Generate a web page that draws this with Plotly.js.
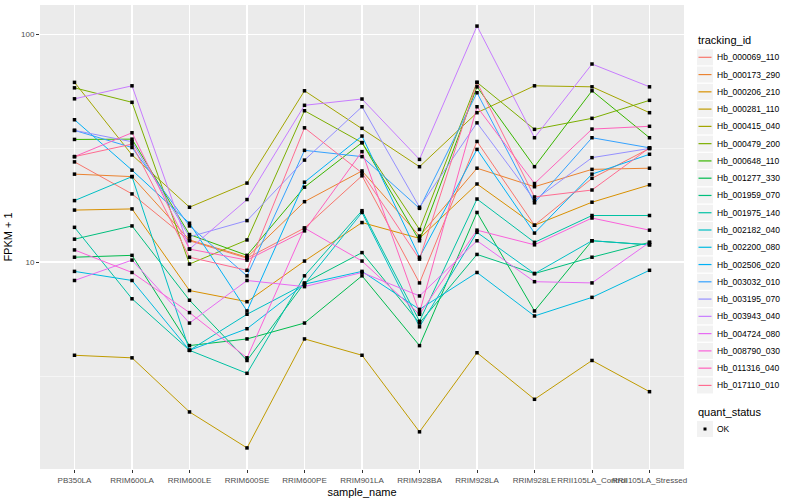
<!DOCTYPE html>
<html><head><meta charset="utf-8">
<script src="https://cdn.plot.ly/plotly-3.0.1.min.js"></script>
<style>html,body{margin:0;padding:0;background:#fff}#chart{width:800px;height:500px}</style>
</head><body><div id="chart"></div>
<script>
// ---- data ----
const sampleNames = ["PB350LA","RRIM600LA","RRIM600LE","RRIM600SE","RRIM600PE","RRIM901LA","RRIM928BA","RRIM928LA","RRIM928LE","RRII105LA_Control","RRII105LA_Stressed"];
const trackingIds = ["Hb_000069_110","Hb_000173_290","Hb_000206_210","Hb_000281_110","Hb_000415_040","Hb_000479_200","Hb_000648_110","Hb_001277_330","Hb_001959_070","Hb_001975_140","Hb_002182_040","Hb_002200_080","Hb_002506_020","Hb_003032_010","Hb_003195_070","Hb_003943_040","Hb_004724_080","Hb_008790_030","Hb_011316_040","Hb_017110_010"];
const seriesColors = ["#F8766D","#EA8331","#D89000","#C09B00","#A3A500","#7CAE00","#39B600","#00BB4E","#00BF7D","#00C1A3","#00BFC4","#00BAE0","#00B0F6","#35A2FF","#9590FF","#C77CFF","#E76BF3","#FA62DB","#FF62BC","#FF6C91"];

const hb_000069_110 = [27.5,19.9,12.4,10.4,14.1,23.9,8.1,33.8,14.5,23.3,31.5];
const hb_000173_290 = [24.3,23.7,12.5,10.5,18.4,25.1,13.0,25.8,21.4,25.5,25.8];
const hb_000206_210 = [16.9,17.1,7.5,6.7,10.1,14.9,12.7,22.0,14.5,18.3,21.8];
const hb_000281_110 = [3.9,3.8,2.2,1.53,4.6,3.9,1.8,4.0,2.5,3.7,2.7];
const hb_000415_040 = [61.4,29.5,17.4,22.2,56.4,38.6,26.2,45.2,59.3,58.7,45.2];
const hb_000479_200 = [58.1,50.2,9.8,12.5,46.1,33.4,13.9,61.4,38.2,42.7,51.2];
const hb_000648_110 = [34.5,34.6,13.2,10.7,21.3,33.4,12.4,58.7,26.2,56.4,35.1];
const hb_001277_330 = [10.5,10.7,4.3,4.6,5.4,8.7,4.3,16.5,6.1,12.4,11.9];
const hb_001959_070 = [12.6,14.4,6.8,3.7,8.1,11.0,5.4,10.8,8.9,10.5,12.2];
const hb_001975_140 = [14.2,6.9,4.1,3.25,8.7,16.8,5.5,18.9,12.2,16.0,16.0];
const hb_002182_040 = [18.6,23.7,4.1,5.9,8.0,16.5,5.2,13.5,8.9,12.4,11.9];
const hb_002200_080 = [9.1,8.3,4.1,5.1,8.0,9.1,6.2,9.0,5.8,7.0,9.2];
const hb_002506_020 = [42.1,25.3,14.8,6.1,22.4,35.7,10.5,31.2,13.4,24.3,29.7];
const hb_003032_010 = [37.8,31.8,14.4,8.7,30.9,29.0,17.2,55.3,18.2,35.1,31.7];
const hb_003195_070 = [37.8,33.7,12.9,15.2,28.0,48.0,17.4,40.8,18.7,28.7,31.5];
const hb_003943_040 = [52.0,59.3,11.4,18.8,48.7,51.9,28.2,108.4,35.1,73.9,58.7];
const hb_004724_080 = [8.3,10.2,5.4,8.3,7.8,9.0,7.1,12.4,8.2,8.1,12.2];
const hb_008790_030 = [11.3,9.0,6.0,3.8,14.1,10.1,5.9,13.8,11.9,15.6,13.8];
const hb_011316_040 = [29.0,36.9,11.4,10.2,13.7,30.5,6.0,48.0,22.1,38.3,39.4];
const hb_017110_010 = [29.0,32.9,10.5,9.2,38.8,24.6,10.3,61.4,19.3,20.7,31.7];

const seriesValues = [hb_000069_110,hb_000173_290,hb_000206_210,hb_000281_110,hb_000415_040,hb_000479_200,hb_000648_110,hb_001277_330,hb_001959_070,hb_001975_140,hb_002182_040,hb_002200_080,hb_002506_020,hb_003032_010,hb_003195_070,hb_003943_040,hb_004724_080,hb_008790_030,hb_011316_040,hb_017110_010];
const statusLabel = "OK";

// ---- geometry (pixels) ----
const W = 800, H = 500;
const M = {l: 40, r: 116, t: 5, b: 31};
const pw = W - M.l - M.r, ph = H - M.t - M.b;
const px = x => (x - M.l) / pw;          // pixel -> paper x
const py = y => (H - M.b - y) / ph;      // pixel -> paper y

// ---- traces ----
const traces = [];
seriesValues.forEach((vals, i) => {
  traces.push({
    type: 'scatter', mode: 'lines', x: sampleNames, y: vals,
    name: trackingIds[i], showlegend: false,
    line: {color: seriesColors[i], width: 1}
  });
});
const allX = [], allY = [];
seriesValues.forEach(vals => vals.forEach((v, j) => { allX.push(sampleNames[j]); allY.push(v); }));
traces.push({
  type: 'scatter', mode: 'markers', x: allX, y: allY, name: statusLabel, showlegend: false,
  marker: {symbol: 'square', size: 3.5, color: '#000'}
});

const logs = allY.map(v => Math.log10(v));
const lmin = Math.min(...logs), lmax = Math.max(...logs);
const pad = (lmax - lmin) * 0.05;

// ---- manual ggplot-style legend ----
const shapes = [], annotations = [];
const legX = 697, keyW = 16, step = 17.27, firstY = 57.3;
const txtFont = {family: 'Liberation Sans, Arial, sans-serif', size: 8.5, color: '#000'};
const ttlFont = {family: 'Liberation Sans, Arial, sans-serif', size: 11, color: '#000'};
annotations.push({xref: 'paper', yref: 'paper', x: px(legX - 1), y: py(40.5), text: 'tracking_id',
  showarrow: false, xanchor: 'left', yanchor: 'middle', font: ttlFont});
trackingIds.forEach((id, i) => {
  const cy = firstY + step * i;
  shapes.push({type: 'rect', xref: 'paper', yref: 'paper', x0: px(legX), x1: px(legX + keyW),
    y0: py(cy - keyW / 2), y1: py(cy + keyW / 2), fillcolor: '#F2F2F2', line: {width: 0}, layer: 'below'});
  shapes.push({type: 'line', xref: 'paper', yref: 'paper', x0: px(legX + 1.5), x1: px(legX + keyW - 1.5),
    y0: py(cy), y1: py(cy), line: {color: seriesColors[i], width: 1.2}});
  annotations.push({xref: 'paper', yref: 'paper', x: px(legX + keyW + 2), y: py(cy), text: id,
    showarrow: false, xanchor: 'left', yanchor: 'middle', font: txtFont});
});
annotations.push({xref: 'paper', yref: 'paper', x: px(legX - 1), y: py(412), text: 'quant_status',
  showarrow: false, xanchor: 'left', yanchor: 'middle', font: ttlFont});
const okY = 429;
shapes.push({type: 'rect', xref: 'paper', yref: 'paper', x0: px(legX), x1: px(legX + keyW),
  y0: py(okY - keyW / 2), y1: py(okY + keyW / 2), fillcolor: '#F2F2F2', line: {width: 0}, layer: 'below'});
shapes.push({type: 'rect', xref: 'paper', yref: 'paper', x0: px(legX + 6.5), x1: px(legX + 9.5),
  y0: py(okY - 1.5), y1: py(okY + 1.5), fillcolor: '#000', line: {width: 0}});
annotations.push({xref: 'paper', yref: 'paper', x: px(legX + keyW + 2), y: py(okY), text: statusLabel,
  showarrow: false, xanchor: 'left', yanchor: 'middle', font: txtFont});

const layout = {
  width: W, height: H, margin: M,
  paper_bgcolor: '#fff', plot_bgcolor: '#EBEBEB',
  font: {family: 'Liberation Sans, Arial, sans-serif', size: 8, color: '#4D4D4D'},
  showlegend: false,
  xaxis: {
    type: 'category', range: [-0.6, sampleNames.length - 0.4],
    tickangle: 0, showgrid: true, gridcolor: '#fff', gridwidth: 1.1,
    zeroline: false, showline: false,
    ticks: 'outside', ticklen: 3, tickcolor: '#333', tickwidth: 1,
    tickfont: {size: 8, color: '#4D4D4D'},
    title: {text: 'sample_name', font: {size: 11, color: '#000'}, standoff: 4},
    automargin: false
  },
  yaxis: {
    type: 'log', range: [lmin - pad, lmax + pad],
    tickvals: [10, 100], ticktext: ['10', '100'],
    showgrid: true, gridcolor: '#fff', gridwidth: 1.1,
    minor: {tickvals: [Math.sqrt(10), Math.sqrt(1000)], showgrid: true, gridcolor: '#fff', gridwidth: 0.5, ticks: ''},
    zeroline: false, showline: false,
    ticks: 'outside', ticklen: 3, tickcolor: '#333', tickwidth: 1,
    tickfont: {size: 8, color: '#4D4D4D'},
    title: {text: 'FPKM + 1', font: {size: 11, color: '#000'}, standoff: 6},
    automargin: false
  },
  shapes: shapes,
  annotations: annotations
};

Plotly.newPlot('chart', traces, layout, {displayModeBar: false, staticPlot: true});
</script></body></html>
